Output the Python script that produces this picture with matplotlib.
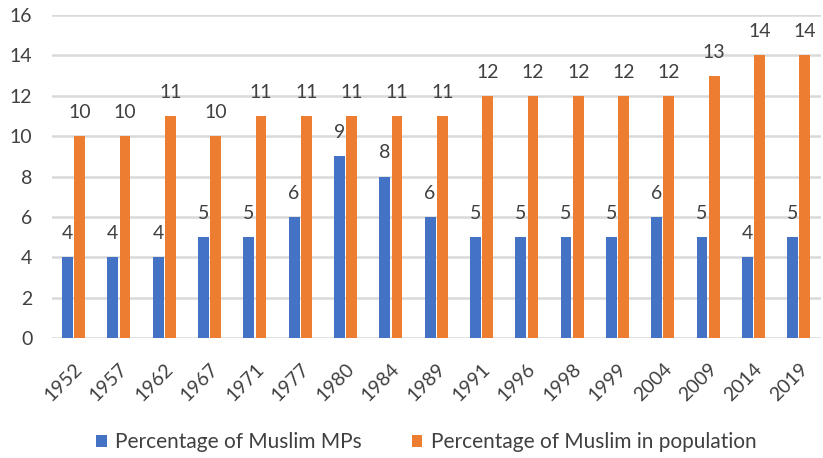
import matplotlib.pyplot as plt
import numpy as np

plt.rcParams['font.family'] = ['Lato', 'DejaVu Sans']

years = ["1952", "1957", "1962", "1967", "1971", "1977", "1980", "1984", "1989",
         "1991", "1996", "1998", "1999", "2004", "2009", "2014", "2019"]
muslim_mps = [4, 4, 4, 5, 5, 6, 9, 8, 6, 5, 5, 5, 5, 6, 5, 4, 5]
muslim_pop = [10, 10, 11, 10, 11, 11, 11, 11, 11, 12, 12, 12, 12, 12, 13, 14, 14]

blue = "#4472C4"
orange = "#ED7D31"
text_col = "#404040"

fig = plt.figure(figsize=(8.23, 4.58), dpi=100)
ax = fig.add_axes([0.063, 0.262, 0.934, 0.705])

x = np.arange(len(years))
w = 0.24
b1 = ax.bar(x - w / 2 - 0.015, muslim_mps, w, color=blue, label="Percentage of Muslim MPs", zorder=3)
b2 = ax.bar(x + w / 2 + 0.015, muslim_pop, w, color=orange, label="Percentage of Muslim in population", zorder=3)

# value labels above each bar
for bars, vals in ((b1, muslim_mps), (b2, muslim_pop)):
    for r, v in zip(bars, vals):
        ax.text(r.get_x() + r.get_width() / 2, v + 0.75, str(v), ha="center", va="bottom",
                fontsize=14, color=text_col)

ax.set_ylim(0, 16)
ax.set_yticks(range(0, 17, 2))
ax.set_xlim(-0.48, len(years) - 0.52)
ax.set_xticks(x)
ax.set_xticklabels(years, rotation=45, ha="right", rotation_mode="anchor")
ax.tick_params(axis="both", length=0, labelsize=14, labelcolor=text_col)
ax.tick_params(axis="x", pad=16)
ax.tick_params(axis="y", pad=14)

ax.grid(axis="y", color="#d9d9d9", linewidth=1.8, zorder=0)
for s in ax.spines.values():
    s.set_visible(False)

fig.legend(handles=[b1, b2], loc="center", bbox_to_anchor=(0.518, 0.035), ncol=2,
           frameon=False, fontsize=15, labelcolor=text_col, handlelength=0.5,
           handleheight=0.5, handletextpad=0.4, columnspacing=2.4)

fig.savefig("out.png", dpi=100)
